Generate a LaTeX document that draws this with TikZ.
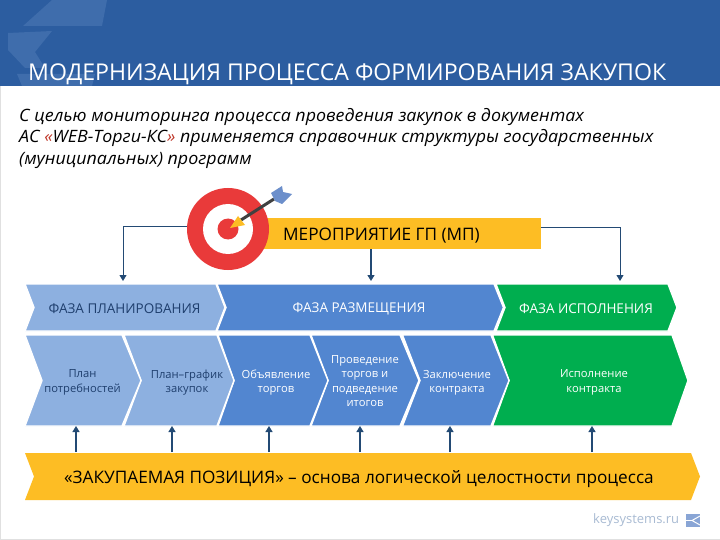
\documentclass[tikz,border=0pt]{standalone}
\usepackage{fontspec}
\setmainfont{Open Sans}
\newfontfamily\introfont[FakeStretch=1.05]{Open Sans}
\usetikzlibrary{arrows.meta}
\definecolor{band}{HTML}{2C5DA0}
\definecolor{bandl}{HTML}{3F6DAC}
\definecolor{lblue}{HTML}{8DB0E0}
\definecolor{mblue}{HTML}{5286D0}
\definecolor{grn}{HTML}{00AE4F}
\definecolor{yel}{HTML}{FDBD24}
\definecolor{tred}{HTML}{E93A3A}
\definecolor{arr}{HTML}{234A74}
\definecolor{dtxt}{HTML}{1F3F6E}
\definecolor{qred}{HTML}{C0392B}
\definecolor{feather}{HTML}{6C8FCB}
\definecolor{sitec}{HTML}{A9BBD3}
\tikzset{
  chev/.style={line width=1.4pt,draw=white,line join=miter},
  conn/.style={arr,line width=1.3pt,-{Triangle[length=6pt,width=7pt]}},
  upconn/.style={arr,line width=1.2pt,-{Triangle[length=6pt,width=7pt]}},
  phase/.style={font=\fontsize{13.5}{16}\selectfont,align=center,inner sep=0pt},
  step label/.style={font=\fontsize{11.2}{14.4}\selectfont,align=center,inner sep=0pt},
}
\begin{document}
\begin{tikzpicture}[x=1pt,y=-1pt]
\useasboundingbox (0,0) rectangle (720,540);
\fill[white] (0,0) rectangle (720,540);
\fill[black!12] (0,538.5) rectangle (720,540);
\fill[black!12] (0,0) rectangle (1,540);
\fill[band] (0,0) rectangle (720,86);
\fill[bandl] (52,0) -- (107,0) -- (102,26) -- (23,26) -- cycle;
\fill[bandl] (8,33) -- (52,31) -- (35,52) -- (45,68) -- (25,68) -- (8,50) -- cycle;
\fill[bandl] (17,74) -- (95,74) -- (92,86) -- (22,86) -- cycle;
\node[anchor=base west,white,inner sep=0pt,font=\fontsize{23.1}{27}\selectfont] (title) at (28,80.5) {МОДЕРНИЗАЦИЯ ПРОЦЕССА ФОРМИРОВАНИЯ ЗАКУПОК};
\node[anchor=north west,inner sep=0pt,align=left,font=\introfont\fontsize{17}{21.6}\selectfont\itshape] (intro) at (19,108) {С целью мониторинга процесса проведения закупок в документах\\АС {\color{qred}«}WEB-Торги-КС{\color{qred}»} применяется справочник структуры государственных\\(муниципальных) программ};
% chevrons: row 1
\fill[grn,chev] (496,284) -- (668,284) -- (677,307.5) -- (668,331) -- (496,331) -- (505,307.5) -- cycle;
\fill[mblue,chev] (217,284) -- (494,284) -- (503.5,307.5) -- (494,331) -- (217,331) -- (226,307.5) -- cycle;
\fill[lblue,chev] (25,284) -- (216,284) -- (225,307.5) -- (216,331) -- (25,331) -- (34,307.5) -- cycle;
\node[phase,dtxt] (p1) at (124.5,309) {ФАЗА ПЛАНИРОВАНИЯ};
\node[phase,white] (p2) at (359,309) {ФАЗА РАЗМЕЩЕНИЯ};
\node[phase,white] (p3) at (586,309) {ФАЗА ИСПОЛНЕНИЯ};
% row 2
\fill[grn,chev] (492.5,335) -- (672,335) -- (688,380.5) -- (672,426) -- (492.5,426) -- (509,380.5) -- cycle;
\fill[mblue,chev] (402.5,335) -- (491,335) -- (509,380.5) -- (491,426) -- (402.5,426) -- (420,380.5) -- cycle;
\fill[mblue,chev] (311,335) -- (400,335) -- (419,380.5) -- (400,426) -- (311,426) -- (328,380.5) -- cycle;
\fill[mblue,chev] (218,335) -- (310,335) -- (328,380.5) -- (310,426) -- (218,426) -- (234,380.5) -- cycle;
\fill[lblue,chev] (124,335) -- (217,335) -- (234,380.5) -- (217,426) -- (124,426) -- (141,380.5) -- cycle;
\fill[lblue,chev] (25,335) -- (122,335) -- (141,380.5) -- (122,426) -- (25,426) -- (42,380.5) -- cycle;
\node[step label,dtxt] (s1) at (82.5,382.5) {План\\потребностей};
\node[step label,dtxt] (s2) at (187,382.5) {План–график\\закупок};
\node[step label,white] (s3) at (276,382.5) {Объявление\\торгов};
\node[step label,white] (s4) at (365,381) {Проведение\\торгов и\\подведение\\итогов};
\node[step label,white] (s5) at (457,382.5) {Заключение\\контракта};
\node[step label,white] (s6) at (594,382.5) {Исполнение\\контракта};
% bottom bar
\fill[yel] (25,453) -- (691,453) -- (700,476.5) -- (691,500) -- (25,500) -- (34,476.5) -- cycle;
\node[inner sep=0pt,font=\fontsize{17.2}{20}\selectfont] (pos) at (359,479) {«ЗАКУПАЕМАЯ ПОЗИЦИЯ» – основа логической целостности процесса};
\coordinate (b1) at (76,452); \coordinate (t1) at (76,426);
\coordinate (b2) at (172,452); \coordinate (t2) at (172,426);
\coordinate (b3) at (269,452); \coordinate (t3) at (269,426);
\coordinate (b4) at (360,452); \coordinate (t4) at (360,426);
\coordinate (b5) at (450,452); \coordinate (t5) at (450,426);
\coordinate (b6) at (592,452); \coordinate (t6) at (592,426);
\foreach \i in {1,...,6} \draw[upconn] (b\i) -- (t\i);
% yellow bar and target
\fill[yel] (262,218) rectangle (541,249);
\node[anchor=west,inner sep=0pt,font=\fontsize{17.2}{20}\selectfont] (mer) at (283,235.5) {МЕРОПРИЯТИЕ ГП (МП)};
\coordinate (e1) at (123,281); \coordinate (e2) at (371,281); \coordinate (e3) at (620,281);
\coordinate (tl) at (188,227); \coordinate (bm) at (371,249); \coordinate (br) at (541,228);
\draw[conn,line width=1pt] (tl) -| (e1);
\draw[conn] (bm) -- (e2);
\draw[conn,line width=1pt] (br) -| (e3);
\fill[tred] (228,229) circle (41);
\fill[white] (228,229) circle (25);
\fill[tred] (228,229) circle (10.5);
\draw[black!75,line width=3pt] (241,220) -- (274,199);
\fill[yel] (230,228) -- (238,216) -- (245,225) -- cycle;
\fill[feather] (271,193) -- (282,186) -- (283,192) -- (292,194) -- (282,204) -- (275,201) -- cycle;
\node[anchor=west,inner sep=0pt,text=sitec,font=\fontsize{13}{16}\selectfont] (site) at (593,520) {keysystems.ru};
\fill[feather!80!white] (686,514) rectangle (700,527);
\draw[white,line width=1pt] (700,516) -- (692,520.5) -- (700,525);
\draw[white,line width=0.8pt] (686,520.5) -- (692,520.5);
\end{tikzpicture}
\end{document}
